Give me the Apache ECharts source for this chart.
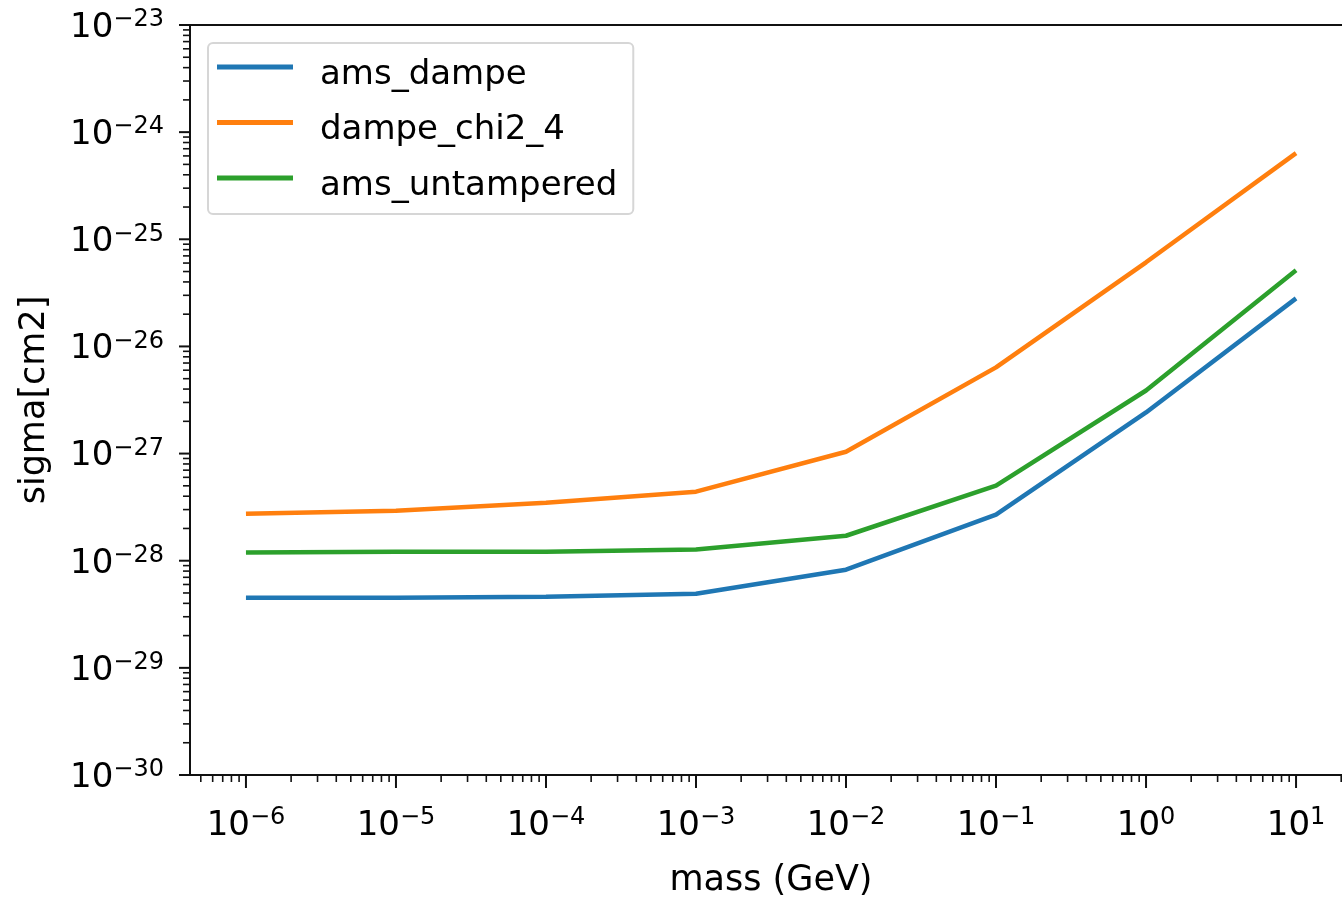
<!DOCTYPE html>
<html>
<head>
<meta charset="utf-8">
<title>sigma vs mass</title>
<script src="https://cdn.jsdelivr.net/npm/echarts@6/dist/echarts.min.js"></script>
<style>
  html, body { margin: 0; padding: 0; background: #fff; }
  #chart { width: 1342px; height: 898px; }
</style>
</head>
<body>
<div id="chart"></div>
<script>
// Masses (GeV) at which each limit curve was evaluated
const mass = [1e-6, 1e-5, 1e-4, 1e-3, 1e-2, 1e-1, 1, 10];

// Cross-section limits sigma [cm^2]
const amsDampe      = [4.51e-29, 4.51e-29, 4.61e-29, 4.92e-29, 8.24e-29, 2.69e-28, 2.42e-27, 2.81e-26];
const dampeChi2_4   = [2.75e-28, 2.93e-28, 3.48e-28, 4.41e-28, 1.04e-27, 6.37e-27, 6.10e-26, 6.37e-25];
const amsUntampered = [1.19e-28, 1.21e-28, 1.21e-28, 1.27e-28, 1.71e-28, 5.03e-28, 3.88e-27, 5.13e-26];

const seriesNames = ['ams_dampe', 'dampe_chi2_4', 'ams_untampered'];
const seriesColors = ['#1f77b4', '#ff7f0e', '#2ca02c'];

// x: log axis on mass; y: decades of sigma (log10 of cm^2), since values
// near 1e-30 are below the precision the log scale keeps.
const X_MIN = Math.pow(10, -6.373), X_MAX = Math.pow(10, 1.373);
const Y_DEC_MIN = -30, Y_DEC_MAX = -23;

const FONT = 'DejaVu Sans';

// Tick marks: decades plus 2..9 minor steps
const tickData = [];
for (let p = -7; p <= 1; p++) {
  for (let m = 1; m <= 9; m++) {
    const v = m * Math.pow(10, p);
    if (v < X_MIN || v > X_MAX) continue;
    tickData.push([v, Y_DEC_MIN, 0, m === 1 ? 13 : 7, m === 1 ? 2 : 1.6]);
  }
}
for (let p = Y_DEC_MIN; p < Y_DEC_MAX + 1; p++) {
  for (let m = 1; m <= 9; m++) {
    const d = p + Math.log10(m);
    if (d > Y_DEC_MAX + 1e-9) continue;
    tickData.push([X_MIN, d, 1, m === 1 ? 11 : 7, m === 1 ? 2 : 1.6]);
  }
}

function supLabel(exp) {
  const sup = exp < 0 ? '\u2212' + Math.abs(exp) : String(exp);
  return '{b|10}{s|' + sup + '}';
}
function xLabel(value) {
  const e = Math.log10(value);
  const r = Math.round(e);
  return Math.abs(e - r) > 1e-6 ? '' : supLabel(r);
}
function yLabel(value) {
  const r = Math.round(value);
  return Math.abs(value - r) > 1e-6 ? '' : supLabel(r);
}

const labelRich = {
  b: { fontFamily: FONT, fontSize: 34, color: '#000', padding: [6, 0, 0, 0] },
  s: { fontFamily: FONT, fontSize: 24, color: '#000', padding: [6, 0, 16, 0] }
};

const chart = echarts.init(document.getElementById('chart'));

const curves = [amsDampe, dampeChi2_4, amsUntampered];
const lineSeries = seriesNames.map((name, i) => ({
  name: name,
  type: 'line',
  data: mass.map((m, k) => [m, Math.log10(curves[i][k])]),
  showSymbol: false,
  symbol: 'none',
  lineStyle: { color: seriesColors[i], width: 4.5 },
  itemStyle: { color: seriesColors[i] },
  z: 3 + i,
  silent: true
}));

chart.setOption({
  animation: false,
  backgroundColor: '#fff',
  grid: {
    left: 190, top: 25, width: 1162, height: 750,
    containLabel: false, outerBoundsMode: 'none',
    show: true, borderColor: '#111', borderWidth: 2, backgroundColor: 'transparent'
  },
  legend: {
    data: seriesNames,
    orient: 'vertical',
    left: 208, top: 43,
    padding: [15, 16, 11, 9],
    itemGap: 21.5,
    itemWidth: 76, itemHeight: 5,
    icon: 'rect',
    borderColor: '#d6d6d6', borderWidth: 2, borderRadius: 5,
    backgroundColor: '#fff',
    formatter: '{n|{name}}',
    textStyle: {
      rich: { n: { fontFamily: FONT, fontSize: 34, color: '#000', padding: [16, 0, 0, 22] } }
    },
    selectedMode: false
  },
  xAxis: {
    type: 'log', logBase: 10,
    min: X_MIN, max: X_MAX,
    name: 'mass (GeV)', nameLocation: 'middle', nameGap: 88,
    nameTextStyle: { fontFamily: FONT, fontSize: 35, color: '#000' },
    axisLine: { show: false },
    axisTick: { show: false },
    splitLine: { show: false },
    axisLabel: { margin: 25, formatter: xLabel, rich: labelRich }
  },
  yAxis: {
    type: 'value',
    min: Y_DEC_MIN, max: Y_DEC_MAX, interval: 1,
    name: 'sigma[cm2]', nameLocation: 'middle', nameGap: 138, nameRotate: 90,
    nameTextStyle: { fontFamily: FONT, fontSize: 35, color: '#000' },
    axisLine: { show: false },
    axisTick: { show: false },
    splitLine: { show: false },
    axisLabel: { margin: 26, formatter: yLabel, rich: labelRich }
  },
  series: lineSeries.concat([{
    type: 'custom',
    name: 'ticks',
    silent: true,
    clip: false,
    z: 10,
    encode: { x: 0, y: 1 },
    data: tickData,
    renderItem: function (params, api) {
      const p = api.coord([api.value(0), api.value(1)]);
      const kind = api.value(2), len = api.value(3), w = api.value(4);
      const shape = kind === 0
        ? { x1: p[0], y1: p[1], x2: p[0], y2: p[1] + len }
        : { x1: p[0], y1: p[1], x2: p[0] - len, y2: p[1] };
      return { type: 'line', shape: shape, style: { stroke: '#111', lineWidth: w } };
    }
  }])
});
</script>
</body>
</html>
